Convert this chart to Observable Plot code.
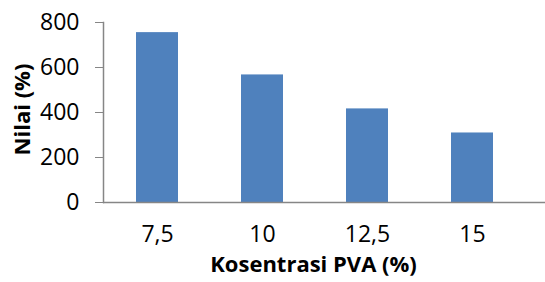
<!DOCTYPE html>
<html><head><meta charset="utf-8">
<script src="https://cdn.jsdelivr.net/npm/d3@7"></script>
<script src="https://cdn.jsdelivr.net/npm/@observablehq/plot@0.6"></script>
<style>body{margin:0;background:#fff}</style>
</head><body><div id="chart"></div>
<script>
const categories = ["7,5", "10", "12,5", "15"];
const values = [755, 567, 416, 309];
const yTicks = [0, 200, 400, 600, 800];
const data = categories.map((c, i) => ({c, v: values[i]}));
const font = "'Open Sans', sans-serif";
const chart = Plot.plot({
  width: 545, height: 282,
  marginTop: 22, marginBottom: 80, marginLeft: 103, marginRight: 0,
  style: {fontFamily: font, fontSize: "23px", color: "#000", background: "#fff"},
  x: {domain: categories, range: [103, 525], paddingInner: 0.6, paddingOuter: 0.3, label: null},
  y: {domain: [0, 800], ticks: yTicks, label: null},
  marks: [
    Plot.barY(data, {x: "c", y: "v", fill: "#4F81BD"}),
    Plot.frame({anchor: "left", stroke: "#868686", strokeWidth: 1.5}),
    Plot.axisY({ticks: yTicks, tickSize: 8, tickPadding: 16, stroke: "#868686", fill: "#000", label: null}),
    Plot.axisX({tickSize: 0, tickPadding: 23, fill: "#000", label: null}),
    Plot.ruleY([0], {stroke: "#868686", strokeWidth: 1.5}),
    Plot.text(["Kosentrasi PVA (%)"], {frameAnchor: "bottom", dx: -11, dy: 69, fontWeight: "bold", fontSize: 22, fill: "#000"}),
    Plot.text(["Nilai (%)"], {frameAnchor: "left", dx: -81, dy: -3, rotate: -90, textAnchor: "middle", fontWeight: "bold", fontSize: 22, fill: "#000"})
  ]
});
document.getElementById("chart").appendChild(chart);
</script>
</body></html>
